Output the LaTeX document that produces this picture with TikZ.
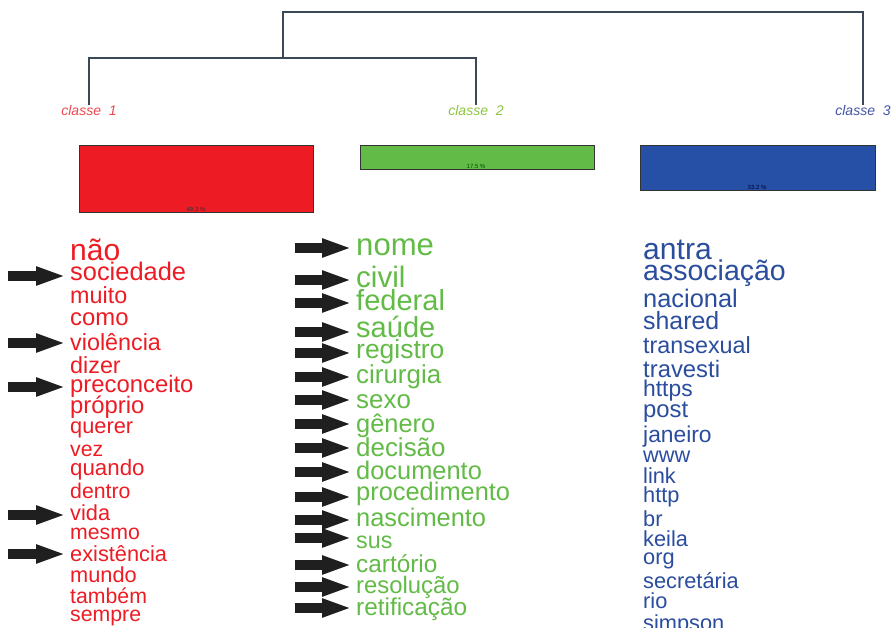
\documentclass[tikz,border=0pt]{standalone}
\usepackage{fontspec}
\setmainfont{Liberation Sans}
\newfontfamily\wordfont{Liberation Sans}[FakeBold=0.45]
\usetikzlibrary{arrows.meta}
\definecolor{cred}{HTML}{ED1C24}
\definecolor{cgreen}{HTML}{62BB46}
\definecolor{cblue}{HTML}{2A4D9E}
\definecolor{lred}{HTML}{F04850}
\definecolor{lgreen}{HTML}{8DC63F}
\definecolor{lblue}{HTML}{4454A4}
\definecolor{dendro}{HTML}{3A4858}
\definecolor{barblue}{HTML}{2550A5}
\newcommand\fsz[1]{\fontsize{\fpeval{#1*1.037}}{\fpeval{#1*1.037}}\selectfont}
\tikzset{
  wrd/.style={anchor=base west, inner sep=0pt},
  rw/.style={wrd, text=cred},
  gw/.style={wrd, text=cgreen},
  bw/.style={wrd, text=cblue},
  clabel/.style={inner sep=0pt, font=\fontsize{14}{14}\selectfont\itshape},
  dend/.style={draw=dendro, line width=1.4pt},
  barbox/.style={draw=black!80, line width=0.9pt},
  pct/.style={inner sep=0pt, font=\fontsize{6}{6}\selectfont, text=black!80},
  ptr/.style={draw=black!88, line width=10pt, -{Triangle[length=30pt,width=17pt]}, shorten >=4pt}
}
\begin{document}
\begin{tikzpicture}[x=1pt,y=-1pt]
\clip (0,0) rectangle (894,628);
\fill[white] (0,0) rectangle (894,628);
% dendrogram
\node[clabel, text=lred] (c1) at (89,110) {classe\ \ 1};
\node[clabel, text=lgreen] (c2) at (476,110) {classe\ \ 2};
\node[clabel, text=lblue] (c3) at (863,110) {classe\ \ 3};
\coordinate (j12) at (283,58);
\coordinate (root) at (283,12);
\draw[dend] (c1.north) |- (j12) -| (c2.north);
\draw[dend] (j12) -- (root) -| (c3.north);
% bars
\draw[barbox, fill=cred] (79,145) rectangle (313,212);
\draw[barbox, fill=cgreen] (360,145) rectangle (594,169);
\draw[barbox, fill=barblue] (640,145) rectangle (875,190);
\node[pct] (p1) at (196,209) {49.3 \%};
\node[pct, text=black!70!green] (p2) at (476,166) {17.5 \%};
\node[pct, text=black!80!blue] (p3) at (757,187) {33.2 \%};
% class 1 words
\begin{scope}[every node/.append style={font=\wordfont}]
\node[rw, font=\fsz{29}] (nao) at (70,261) {não};
\node[rw, font=\fsz{24.5}] (sociedade) at (70,280) {sociedade};
\node[rw, font=\fsz{22.5}] (muito) at (70,304) {muito};
\node[rw, font=\fsz{23}] (como) at (70,325) {como};
\node[rw, font=\fsz{22.5}] (violencia) at (70,350) {violência};
\node[rw, font=\fsz{22.5}] (dizer) at (70,373) {dizer};
\node[rw, font=\fsz{23}] (preconceito) at (70,392) {preconceito};
\node[rw, font=\fsz{23}] (proprio) at (70,413) {próprio};
\node[rw, font=\fsz{21}] (querer) at (70,433) {querer};
\node[rw, font=\fsz{20.5}] (vez) at (70,456) {vez};
\node[rw, font=\fsz{21.5}] (quando) at (70,475) {quando};
\node[rw, font=\fsz{20.5}] (dentro) at (70,498) {dentro};
\node[rw, font=\fsz{21}] (vida) at (70,520) {vida};
\node[rw, font=\fsz{20.5}] (mesmo) at (70,539) {mesmo};
\node[rw, font=\fsz{21}] (existencia) at (70,561) {existência};
\node[rw, font=\fsz{21}] (mundo) at (70,582) {mundo};
\node[rw, font=\fsz{20.5}] (tambem) at (70,603) {também};
\node[rw, font=\fsz{20.5}] (sempre) at (70,621) {sempre};
% class 2 words
\node[gw, font=\fsz{30}] (nome) at (356,256) {nome};
\node[gw, font=\fsz{28.5}] (civil) at (356,288) {civil};
\node[gw, font=\fsz{28}] (federal) at (356,311) {federal};
\node[gw, font=\fsz{28}] (saude) at (356,337) {saúde};
\node[gw, font=\fsz{25.5}] (registro) at (356,358) {registro};
\node[gw, font=\fsz{25}] (cirurgia) at (356,383) {cirurgia};
\node[gw, font=\fsz{25}] (sexo) at (356,408) {sexo};
\node[gw, font=\fsz{24.5}] (genero) at (356,432) {gênero};
\node[gw, font=\fsz{25}] (decisao) at (356,456) {decisão};
\node[gw, font=\fsz{24.5}] (documento) at (356,479) {documento};
\node[gw, font=\fsz{24.5}] (procedimento) at (356,500) {procedimento};
\node[gw, font=\fsz{24.5}] (nascimento) at (356,526) {nascimento};
\node[gw, font=\fsz{22.5}] (sus) at (356,548) {sus};
\node[gw, font=\fsz{23.5}] (cartorio) at (356,572) {cartório};
\node[gw, font=\fsz{23}] (resolucao) at (356,593) {resolução};
\node[gw, font=\fsz{23.5}] (retificacao) at (356,615) {retificação};
% class 3 words
\node[bw, font=\fsz{29}] (antra) at (643,260) {antra};
\node[bw, font=\fsz{27.5}] (associacao) at (643,280) {associação};
\node[bw, font=\fsz{24.5}] (nacional) at (643,308) {nacional};
\node[bw, font=\fsz{24}] (shared) at (643,330) {shared};
\node[bw, font=\fsz{22.5}] (transexual) at (643,353) {transexual};
\node[bw, font=\fsz{23}] (travesti) at (643,377) {travesti};
\node[bw, font=\fsz{22}] (https) at (643,396) {https};
\node[bw, font=\fsz{23}] (post) at (643,417) {post};
\node[bw, font=\fsz{22}] (janeiro) at (643,442) {janeiro};
\node[bw, font=\fsz{21}] (www) at (643,462) {www};
\node[bw, font=\fsz{21}] (link) at (643,483) {link};
\node[bw, font=\fsz{21}] (http) at (643,502) {http};
\node[bw, font=\fsz{21}] (br) at (643,526) {br};
\node[bw, font=\fsz{21}] (keila) at (643,546) {keila};
\node[bw, font=\fsz{21}] (org) at (643,564) {org};
\node[bw, font=\fsz{21}] (secretaria) at (643,588) {secretária};
\node[bw, font=\fsz{21}] (rio) at (643,608) {rio};
\node[bw, font=\fsz{21}] (simpson) at (643,630) {simpson};
\end{scope}
% arrows, class 1
\foreach \w/\y in {sociedade/276, violencia/343, preconceito/387, vida/515, existencia/554}{
  \coordinate (s-\w) at (8,\y);
  \draw[ptr] (s-\w) -- (s-\w -| \w.west);
}
% arrows, class 2
\foreach \w/\y in {nome/248, civil/280, federal/303, saude/332, registro/353, cirurgia/377, sexo/400, genero/424, decisao/448, documento/472, procedimento/497, nascimento/520, sus/538, cartorio/565, resolucao/587, retificacao/608}{
  \coordinate (s-\w) at (295,\y);
  \draw[ptr] (s-\w) -- (s-\w -| \w.west);
}
\end{tikzpicture}
\end{document}
